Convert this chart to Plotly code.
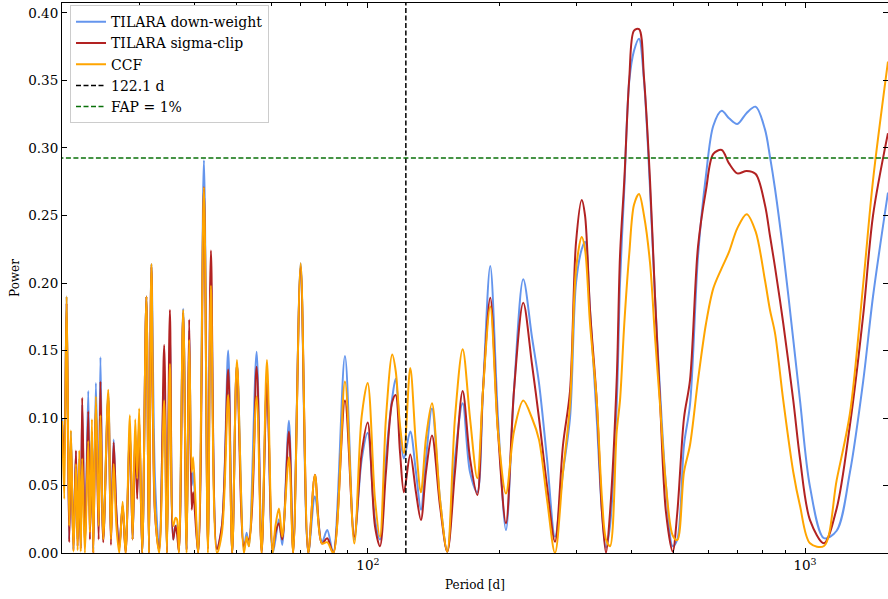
import math
import plotly.graph_objects as go

# ---- data ----
period_d = [19.97, 20.19, 20.44, 20.72, 20.91, 21.19, 21.47, 21.66, 21.85, 22.02,
            22.19, 22.51, 22.91, 23.11, 23.36, 23.52, 23.85, 24.20, 24.43, 24.79,
            25.45, 25.82, 26.19, 26.57, 26.97, 27.46, 27.89, 28.53, 28.94, 29.34,
            29.65, 29.96, 30.44, 31.12, 31.54, 31.95, 32.55, 33.29, 34.18, 34.67,
            35.22, 35.84, 36.26, 36.55, 36.94, 37.78, 38.46, 38.99, 39.51, 39.82,
            40.89, 42.14, 43.03, 43.72, 45.12, 46.33, 47.89, 48.91, 50.14, 52.02,
            52.77, 53.41, 55.62, 57.11, 58.73, 60.52, 61.42, 62.56, 63.66, 65.94,
            67.45, 70.15, 73.01, 75.63, 78.47, 80.69, 83.29, 88.59, 93.04, 96.73,
            99.84, 103.76, 106.53, 109.95, 113.66, 115.72, 118.37, 120.89, 124.97, 128.78,
            132.21, 135.75, 140.11, 146.15, 151.87, 158.16, 164.71, 171.18, 177.87, 183.29,
            190.48, 198.37, 206.91, 215.80, 226.65, 237.28, 246.21, 256.82, 267.89, 279.43,
            289.94, 299.26, 308.38, 313.80, 322.17, 333.74, 343.19, 350.50, 357.96, 370.81,
            377.31, 385.96, 396.27, 406.20, 417.05, 428.18, 441.94, 453.73, 465.84, 480.80,
            498.07, 510.29, 528.62, 545.61, 569.11, 593.63, 616.90, 644.79, 670.09, 699.87,
            735.42, 771.14, 809.87, 831.48, 853.67, 891.82, 940.09, 973.99, 1026.69, 1105.16,
            1181.60, 1267.37, 1359.53, 1430.90, 1548.25]

power_downweight = [0.100, 0.070, 0.190, 0.010, 0.090, 0.003, 0.075, 0.010, 0.070, 0.005,
                    0.110, 0.005, 0.120, 0.020, 0.090, 0.003, 0.126, 0.020, 0.145, 0.010,
                    0.118, 0.010, 0.084, 0.030, 0.005, 0.035, 0.003, 0.090, 0.010, 0.090,
                    0.045, 0.095, 0.000, 0.190, 0.000, 0.214, 0.056, 0.003, 0.130, 0.000,
                    0.160, 0.010, 0.020, 0.020, 0.002, 0.181, 0.003, 0.165, 0.050, 0.060,
                    0.000, 0.291, 0.005, 0.205, 0.003, 0.020, 0.150, 0.000, 0.140, 0.003,
                    0.015, 0.005, 0.149, 0.002, 0.130, 0.000, 0.010, 0.025, 0.006, 0.098,
                    0.002, 0.2146, 0.000, 0.042, 0.008, 0.017, 0.000, 0.146, 0.010, 0.069,
                    0.089, 0.025, 0.010, 0.070, 0.115, 0.129, 0.090, 0.070, 0.090, 0.060,
                    0.032, 0.070, 0.107, 0.040, 0.001, 0.070, 0.111, 0.060, 0.045, 0.120,
                    0.2126, 0.100, 0.017, 0.120, 0.2027, 0.160, 0.126, 0.070, 0.012, 0.060,
                    0.100, 0.200, 0.225, 0.2306, 0.180, 0.100, 0.030, 0.004, 0.020, 0.110,
                    0.200, 0.270, 0.350, 0.372, 0.381, 0.350, 0.270, 0.190, 0.120, 0.050,
                    0.005, 0.010, 0.080, 0.110, 0.220, 0.280, 0.3165, 0.3276, 0.322, 0.3178,
                    0.326, 0.3306, 0.3138, 0.2936, 0.270, 0.223, 0.158, 0.113, 0.049, 0.011,
                    0.0165, 0.060, 0.128, 0.190, 0.267]

power_sigmaclip = [0.095, 0.070, 0.185, 0.008, 0.085, 0.002, 0.076, 0.005, 0.060, 0.003,
                   0.115, 0.005, 0.105, 0.010, 0.090, 0.000, 0.110, 0.010, 0.127, 0.008,
                   0.115, 0.006, 0.082, 0.030, 0.003, 0.035, 0.000, 0.090, 0.010, 0.085,
                   0.040, 0.100, 0.000, 0.190, 0.000, 0.212, 0.030, 0.002, 0.154, 0.000,
                   0.180, 0.010, 0.020, 0.015, 0.001, 0.178, 0.002, 0.173, 0.032, 0.045,
                   0.000, 0.271, 0.003, 0.224, 0.003, 0.020, 0.136, 0.000, 0.140, 0.005,
                   0.010, 0.010, 0.138, 0.000, 0.126, 0.002, 0.015, 0.022, 0.010, 0.090,
                   0.000, 0.212, 0.000, 0.058, 0.007, 0.011, 0.000, 0.113, 0.012, 0.074,
                   0.0966, 0.020, 0.005, 0.060, 0.112, 0.117, 0.075, 0.045, 0.073, 0.045,
                   0.0244, 0.060, 0.087, 0.035, 0.001, 0.060, 0.120, 0.070, 0.043, 0.120,
                   0.189, 0.090, 0.022, 0.120, 0.1854, 0.140, 0.100, 0.050, 0.0084, 0.080,
                   0.120, 0.230, 0.2615, 0.250, 0.180, 0.113, 0.030, 0.000, 0.030, 0.128,
                   0.220, 0.276, 0.352, 0.387, 0.388, 0.352, 0.276, 0.190, 0.113, 0.030,
                   0.001, 0.030, 0.100, 0.128, 0.227, 0.269, 0.2956, 0.2985, 0.2886, 0.2812,
                   0.283, 0.2807, 0.2578, 0.235, 0.212, 0.170, 0.113, 0.070, 0.0244, 0.0072,
                   0.033, 0.095, 0.177, 0.250, 0.311]

power_ccf = [0.098, 0.040, 0.190, 0.020, 0.091, 0.001, 0.066, 0.002, 0.076, 0.001,
             0.070, 0.000, 0.083, 0.015, 0.099, 0.000, 0.116, 0.020, 0.102, 0.010,
             0.121, 0.010, 0.066, 0.020, 0.000, 0.038, 0.000, 0.102, 0.010, 0.099,
             0.055, 0.107, 0.000, 0.190, 0.000, 0.214, 0.033, 0.000, 0.113, 0.000,
             0.140, 0.020, 0.026, 0.025, 0.000, 0.180, 0.000, 0.158, 0.060, 0.071,
             0.000, 0.271, 0.000, 0.198, 0.000, 0.015, 0.117, 0.000, 0.143, 0.000,
             0.012, 0.005, 0.116, 0.000, 0.143, 0.000, 0.020, 0.033, 0.012, 0.071,
             0.000, 0.2146, 0.000, 0.058, 0.007, 0.008, 0.000, 0.127, 0.007, 0.101,
             0.126, 0.040, 0.012, 0.100, 0.147, 0.135, 0.095, 0.074, 0.137, 0.080,
             0.045, 0.085, 0.111, 0.040, 0.001, 0.100, 0.151, 0.100, 0.0553, 0.120,
             0.1825, 0.090, 0.044, 0.090, 0.113, 0.100, 0.084, 0.040, 0.000, 0.060,
             0.110, 0.210, 0.234, 0.225, 0.170, 0.113, 0.040, 0.010, 0.005, 0.090,
             0.113, 0.170, 0.222, 0.258, 0.266, 0.250, 0.215, 0.160, 0.110, 0.050,
             0.013, 0.0096, 0.060, 0.080, 0.128, 0.170, 0.196, 0.211, 0.223, 0.2405,
             0.251, 0.238, 0.202, 0.180, 0.163, 0.113, 0.060, 0.035, 0.0072, 0.0052,
             0.054, 0.1035, 0.200, 0.276, 0.364]

rotation_period = 122.1
fap_1pct = 0.2926

series_names = ["TILARA down-weight", "TILARA sigma-clip", "CCF"]
series_colors = ["#6495ED", "#B22222", "#FFA500"]
series_values = [power_downweight, power_sigmaclip, power_ccf]

x_min, x_max = 19.95, 1548.5
y_min, y_max = 0.0, 0.4074

major_x_ticks = [100, 1000]
major_x_labels = ["10<sup>2</sup>", "10<sup>3</sup>"]
minor_x_ticks = [20, 30, 40, 50, 60, 70, 80, 90, 200, 300, 400, 500, 600, 700, 800, 900]

FONT = "DejaVu Serif"

fig = go.Figure()
for name, color, vals in zip(series_names, series_colors, series_values):
    fig.add_trace(go.Scatter(
        x=period_d, y=vals, mode="lines", name=name,
        line=dict(color=color, width=2, shape="spline", smoothing=0.9),
    ))

fig.add_trace(go.Scatter(
    x=[rotation_period, rotation_period], y=[-1, 1], mode="lines",
    name=f"{rotation_period} d",
    line=dict(color="black", width=1.5, dash="5px,2.5px"),
))
fig.add_trace(go.Scatter(
    x=[10, 3000], y=[fap_1pct, fap_1pct], mode="lines",
    name="FAP = 1%",
    line=dict(color="#087008", width=1.5, dash="5px,2.5px"),
))

fig.update_layout(
    width=888, height=599,
    margin=dict(l=62, r=0, t=3, b=46),
    paper_bgcolor="white", plot_bgcolor="white",
    font=dict(family=FONT, size=13.5, color="black"),
    showlegend=True,
    legend=dict(
        x=0.0097, y=0.996, xanchor="left", yanchor="top",
        bgcolor="rgba(255,255,255,0.85)", bordercolor="#cccccc", borderwidth=1,
        font=dict(family=FONT, size=14, color="black"),
        tracegroupgap=0,
    ),
    xaxis=dict(
        type="log", range=[math.log10(x_min), math.log10(x_max)],
        tickvals=major_x_ticks, ticktext=major_x_labels,
        ticks="inside", ticklen=5, tickwidth=1, tickcolor="black",
        showline=True, linecolor="black", linewidth=1, mirror="ticks",
        showgrid=False, zeroline=False,
        minor=dict(tickvals=minor_x_ticks, ticks="inside", ticklen=3,
                   tickwidth=1, tickcolor="black", showgrid=False),
        title=dict(text="Period [d]", standoff=8, font=dict(family=FONT, size=12)),
    ),
    yaxis=dict(
        range=[y_min, y_max], dtick=0.05, tick0=0, tickformat=".2f",
        ticks="inside", ticklen=5, tickwidth=1, tickcolor="black",
        showline=True, linecolor="black", linewidth=1, mirror="ticks",
        showgrid=False, zeroline=False,
        title=dict(text="Power", standoff=6, font=dict(family=FONT, size=12)),
    ),
)

fig.write_html("out.html")
